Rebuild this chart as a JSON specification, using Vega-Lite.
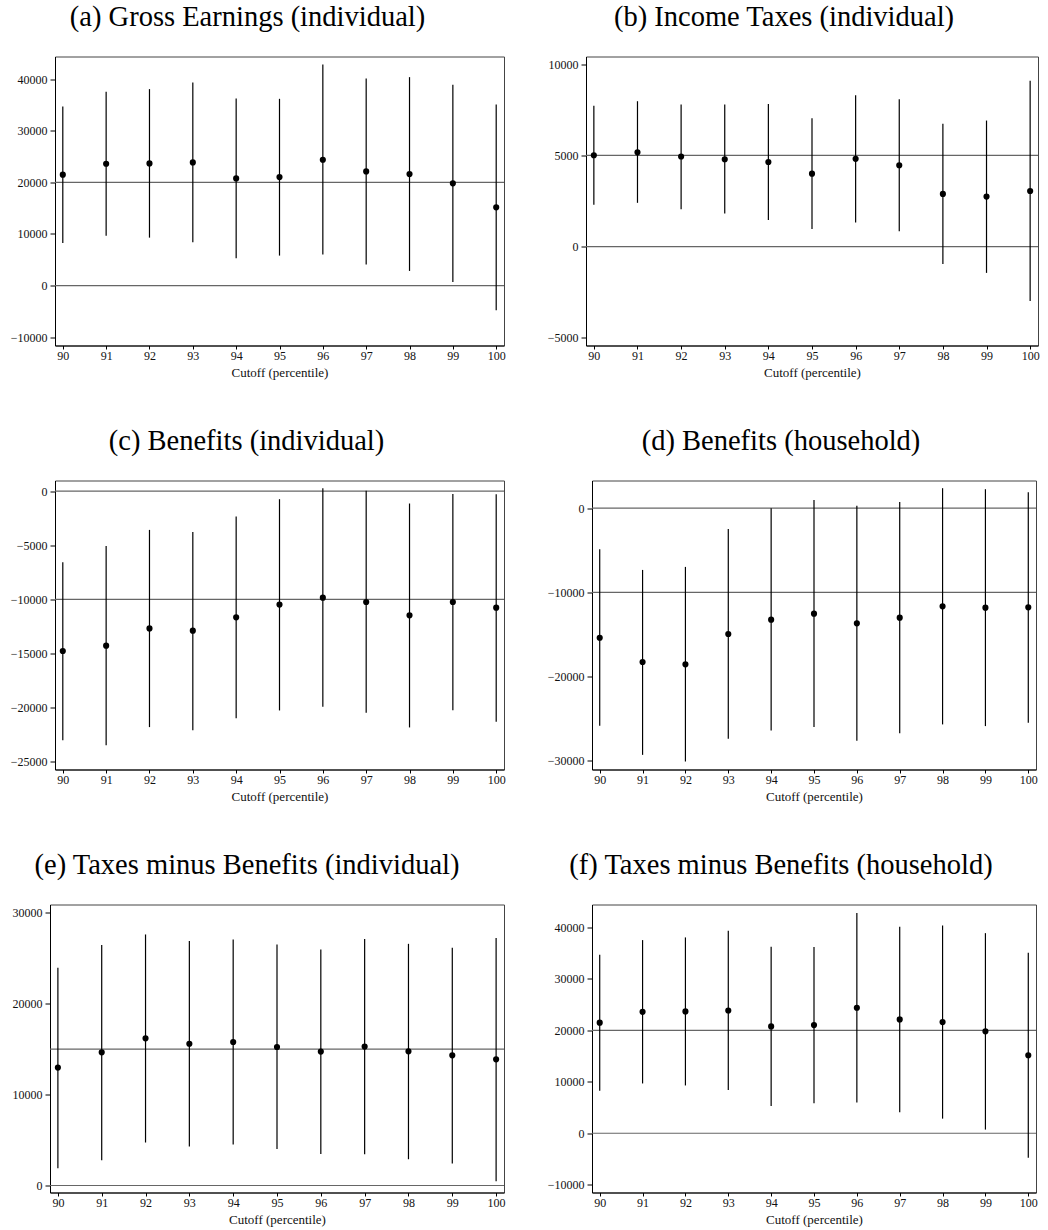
{
  "$schema": "https://vega.github.io/schema/vega-lite/v6.json",
  "background": "white",
  "padding": {"left": 0, "top": 2.5, "right": 0, "bottom": 0},
  "columns": 3,
  "align": "none",
  "spacing": {"row": 47, "column": 0},
  "datasets": {
    "refs": [
      {"panel": "a", "v": 0}, {"panel": "a", "v": 20000},
      {"panel": "b", "v": 0}, {"panel": "b", "v": 5000},
      {"panel": "c", "v": 0}, {"panel": "c", "v": -10000},
      {"panel": "d", "v": 0}, {"panel": "d", "v": -10000},
      {"panel": "e", "v": 0}, {"panel": "e", "v": 15000},
      {"panel": "f", "v": 0}, {"panel": "f", "v": 20000}
    ],
    "est": [
      {"panel": "a", "pct": 90, "est": 21500, "lo": 8260, "hi": 34700},
      {"panel": "a", "pct": 91, "est": 23600, "lo": 9680, "hi": 37550},
      {"panel": "a", "pct": 92, "est": 23680, "lo": 9290, "hi": 38070},
      {"panel": "a", "pct": 93, "est": 23870, "lo": 8390, "hi": 39350},
      {"panel": "a", "pct": 94, "est": 20770, "lo": 5290, "hi": 36260},
      {"panel": "a", "pct": 95, "est": 21030, "lo": 5810, "hi": 36190},
      {"panel": "a", "pct": 96, "est": 24390, "lo": 6000, "hi": 42840},
      {"panel": "a", "pct": 97, "est": 22130, "lo": 4070, "hi": 40130},
      {"panel": "a", "pct": 98, "est": 21610, "lo": 2840, "hi": 40390},
      {"panel": "a", "pct": 99, "est": 19810, "lo": 710, "hi": 38900},
      {"panel": "a", "pct": 100, "est": 15160, "lo": -4770, "hi": 35100},
      {"panel": "b", "pct": 90, "est": 5010, "lo": 2300, "hi": 7720},
      {"panel": "b", "pct": 91, "est": 5170, "lo": 2400, "hi": 7970},
      {"panel": "b", "pct": 92, "est": 4940, "lo": 2050, "hi": 7790},
      {"panel": "b", "pct": 93, "est": 4790, "lo": 1810, "hi": 7790},
      {"panel": "b", "pct": 94, "est": 4640, "lo": 1460, "hi": 7820},
      {"panel": "b", "pct": 95, "est": 4000, "lo": 970, "hi": 7040},
      {"panel": "b", "pct": 96, "est": 4810, "lo": 1320, "hi": 8300},
      {"panel": "b", "pct": 97, "est": 4460, "lo": 840, "hi": 8080},
      {"panel": "b", "pct": 98, "est": 2890, "lo": -950, "hi": 6730},
      {"panel": "b", "pct": 99, "est": 2740, "lo": -1440, "hi": 6910},
      {"panel": "b", "pct": 100, "est": 3050, "lo": -2980, "hi": 9090},
      {"panel": "c", "pct": 90, "est": -14780, "lo": -23030, "hi": -6570},
      {"panel": "c", "pct": 91, "est": -14290, "lo": -23490, "hi": -5060},
      {"panel": "c", "pct": 92, "est": -12690, "lo": -21820, "hi": -3580},
      {"panel": "c", "pct": 93, "est": -12900, "lo": -22100, "hi": -3770},
      {"panel": "c", "pct": 94, "est": -11670, "lo": -20990, "hi": -2350},
      {"panel": "c", "pct": 95, "est": -10490, "lo": -20280, "hi": -740},
      {"panel": "c", "pct": 96, "est": -9850, "lo": -19940, "hi": 280},
      {"panel": "c", "pct": 97, "est": -10250, "lo": -20490, "hi": 30},
      {"panel": "c", "pct": 98, "est": -11480, "lo": -21850, "hi": -1140},
      {"panel": "c", "pct": 99, "est": -10250, "lo": -20250, "hi": -250},
      {"panel": "c", "pct": 100, "est": -10770, "lo": -21330, "hi": -280},
      {"panel": "d", "pct": 90, "est": -15400, "lo": -25870, "hi": -4880},
      {"panel": "d", "pct": 91, "est": -18290, "lo": -29330, "hi": -7340},
      {"panel": "d", "pct": 92, "est": -18570, "lo": -30120, "hi": -6980},
      {"panel": "d", "pct": 93, "est": -14960, "lo": -27420, "hi": -2460},
      {"panel": "d", "pct": 94, "est": -13250, "lo": -26430, "hi": 0},
      {"panel": "d", "pct": 95, "est": -12540, "lo": -26030, "hi": 990},
      {"panel": "d", "pct": 96, "est": -13690, "lo": -27660, "hi": 280},
      {"panel": "d", "pct": 97, "est": -13020, "lo": -26750, "hi": 750},
      {"panel": "d", "pct": 98, "est": -11670, "lo": -25710, "hi": 2380},
      {"panel": "d", "pct": 99, "est": -11830, "lo": -25910, "hi": 2260},
      {"panel": "d", "pct": 100, "est": -11790, "lo": -25520, "hi": 1900},
      {"panel": "e", "pct": 90, "est": 12970, "lo": 1900, "hi": 23960},
      {"panel": "e", "pct": 91, "est": 14650, "lo": 2780, "hi": 26450},
      {"panel": "e", "pct": 92, "est": 16190, "lo": 4730, "hi": 27620},
      {"panel": "e", "pct": 93, "est": 15600, "lo": 4290, "hi": 26890},
      {"panel": "e", "pct": 94, "est": 15790, "lo": 4510, "hi": 27070},
      {"panel": "e", "pct": 95, "est": 15240, "lo": 4030, "hi": 26520},
      {"panel": "e", "pct": 96, "est": 14730, "lo": 3480, "hi": 25970},
      {"panel": "e", "pct": 97, "est": 15280, "lo": 3440, "hi": 27110},
      {"panel": "e", "pct": 98, "est": 14760, "lo": 2890, "hi": 26590},
      {"panel": "e", "pct": 99, "est": 14320, "lo": 2420, "hi": 26150},
      {"panel": "e", "pct": 100, "est": 13880, "lo": 480, "hi": 27220},
      {"panel": "f", "pct": 90, "est": 21500, "lo": 8260, "hi": 34700},
      {"panel": "f", "pct": 91, "est": 23600, "lo": 9680, "hi": 37550},
      {"panel": "f", "pct": 92, "est": 23680, "lo": 9290, "hi": 38070},
      {"panel": "f", "pct": 93, "est": 23870, "lo": 8390, "hi": 39350},
      {"panel": "f", "pct": 94, "est": 20770, "lo": 5290, "hi": 36260},
      {"panel": "f", "pct": 95, "est": 21030, "lo": 5810, "hi": 36190},
      {"panel": "f", "pct": 96, "est": 24390, "lo": 6000, "hi": 42840},
      {"panel": "f", "pct": 97, "est": 22130, "lo": 4070, "hi": 40130},
      {"panel": "f", "pct": 98, "est": 21610, "lo": 2840, "hi": 40390},
      {"panel": "f", "pct": 99, "est": 19810, "lo": 710, "hi": 38900},
      {"panel": "f", "pct": 100, "est": 15160, "lo": -4770, "hi": 35100}
    ]
  },
  "concat": [
    {"width": 1, "height": 1, "data": {"values": []}, "mark": {"type": "point", "opacity": 0}, "view": {"stroke": null}},
    {
      "width": 449, "height": 289,
      "title": {"text": "(a) Gross Earnings (individual)", "dx": -32},
      "layer": [
        {"data": {"name": "refs"}, "transform": [{"filter": "datum.panel == 'a'"}],
         "mark": {"type": "rule", "color": "#666", "strokeWidth": 1.2},
         "encoding": {"y": {"field": "v", "type": "quantitative", "title": null, "scale": {"domain": [-11610, 44390], "nice": false, "zero": false}, "axis": {"values": [-10000, 0, 10000, 20000, 30000, 40000], "format": "d", "minExtent": 53}}}},
        {"data": {"name": "est"}, "transform": [{"filter": "datum.panel == 'a'"}],
         "mark": {"type": "rule", "color": "black", "strokeWidth": 1.2},
         "encoding": {"x": {"field": "pct", "type": "quantitative", "title": "Cutoff (percentile)", "scale": {"domain": [89.82, 100.18], "nice": false, "zero": false}, "axis": {"values": [90, 91, 92, 93, 94, 95, 96, 97, 98, 99, 100], "format": "d"}},
                      "y": {"field": "lo", "type": "quantitative", "title": null}, "y2": {"field": "hi"}}},
        {"data": {"name": "est"}, "transform": [{"filter": "datum.panel == 'a'"}],
         "mark": {"type": "circle", "color": "black", "size": 38, "opacity": 1},
         "encoding": {"x": {"field": "pct", "type": "quantitative", "title": "Cutoff (percentile)"}, "y": {"field": "est", "type": "quantitative", "title": null}}}
      ]
    },
    {
      "width": 452, "height": 289,
      "title": {"text": "(b) Income Taxes (individual)", "dx": -28},
      "layer": [
        {"data": {"name": "refs"}, "transform": [{"filter": "datum.panel == 'b'"}],
         "mark": {"type": "rule", "color": "#666", "strokeWidth": 1.2},
         "encoding": {"y": {"field": "v", "type": "quantitative", "title": null, "scale": {"domain": [-5421, 10421], "nice": false, "zero": false}, "axis": {"values": [-5000, 0, 5000, 10000], "format": "d", "minExtent": 74}}}},
        {"data": {"name": "est"}, "transform": [{"filter": "datum.panel == 'b'"}],
         "mark": {"type": "rule", "color": "black", "strokeWidth": 1.2},
         "encoding": {"x": {"field": "pct", "type": "quantitative", "title": "Cutoff (percentile)", "scale": {"domain": [89.82, 100.18], "nice": false, "zero": false}, "axis": {"values": [90, 91, 92, 93, 94, 95, 96, 97, 98, 99, 100], "format": "d"}},
                      "y": {"field": "lo", "type": "quantitative", "title": null}, "y2": {"field": "hi"}}},
        {"data": {"name": "est"}, "transform": [{"filter": "datum.panel == 'b'"}],
         "mark": {"type": "circle", "color": "black", "size": 38, "opacity": 1},
         "encoding": {"x": {"field": "pct", "type": "quantitative", "title": "Cutoff (percentile)"}, "y": {"field": "est", "type": "quantitative", "title": null}}}
      ]
    },
    {"width": 1, "height": 1, "data": {"values": []}, "mark": {"type": "point", "opacity": 0}, "view": {"stroke": null}},
    {
      "width": 449, "height": 289,
      "title": {"text": "(c) Benefits (individual)", "dx": -33},
      "layer": [
        {"data": {"name": "refs"}, "transform": [{"filter": "datum.panel == 'c'"}],
         "mark": {"type": "rule", "color": "#666", "strokeWidth": 1.2},
         "encoding": {"y": {"field": "v", "type": "quantitative", "title": null, "scale": {"domain": [-25741, 988], "nice": false, "zero": false}, "axis": {"values": [-25000, -20000, -15000, -10000, -5000, 0], "format": "d", "minExtent": 53}}}},
        {"data": {"name": "est"}, "transform": [{"filter": "datum.panel == 'c'"}],
         "mark": {"type": "rule", "color": "black", "strokeWidth": 1.2},
         "encoding": {"x": {"field": "pct", "type": "quantitative", "title": "Cutoff (percentile)", "scale": {"domain": [89.82, 100.18], "nice": false, "zero": false}, "axis": {"values": [90, 91, 92, 93, 94, 95, 96, 97, 98, 99, 100], "format": "d"}},
                      "y": {"field": "lo", "type": "quantitative", "title": null}, "y2": {"field": "hi"}}},
        {"data": {"name": "est"}, "transform": [{"filter": "datum.panel == 'c'"}],
         "mark": {"type": "circle", "color": "black", "size": 38, "opacity": 1},
         "encoding": {"x": {"field": "pct", "type": "quantitative", "title": "Cutoff (percentile)"}, "y": {"field": "est", "type": "quantitative", "title": null}}}
      ]
    },
    {
      "width": 444, "height": 289,
      "title": {"text": "(d) Benefits (household)", "dx": -33},
      "layer": [
        {"data": {"name": "refs"}, "transform": [{"filter": "datum.panel == 'd'"}],
         "mark": {"type": "rule", "color": "#666", "strokeWidth": 1.2},
         "encoding": {"y": {"field": "v", "type": "quantitative", "title": null, "scale": {"domain": [-31071, 3294], "nice": false, "zero": false}, "axis": {"values": [-30000, -20000, -10000, 0], "format": "d", "minExtent": 80}}}},
        {"data": {"name": "est"}, "transform": [{"filter": "datum.panel == 'd'"}],
         "mark": {"type": "rule", "color": "black", "strokeWidth": 1.2},
         "encoding": {"x": {"field": "pct", "type": "quantitative", "title": "Cutoff (percentile)", "scale": {"domain": [89.82, 100.18], "nice": false, "zero": false}, "axis": {"values": [90, 91, 92, 93, 94, 95, 96, 97, 98, 99, 100], "format": "d"}},
                      "y": {"field": "lo", "type": "quantitative", "title": null}, "y2": {"field": "hi"}}},
        {"data": {"name": "est"}, "transform": [{"filter": "datum.panel == 'd'"}],
         "mark": {"type": "circle", "color": "black", "size": 38, "opacity": 1},
         "encoding": {"x": {"field": "pct", "type": "quantitative", "title": "Cutoff (percentile)"}, "y": {"field": "est", "type": "quantitative", "title": null}}}
      ]
    },
    {"width": 1, "height": 1, "data": {"values": []}, "mark": {"type": "point", "opacity": 0}, "view": {"stroke": null}},
    {
      "width": 454, "height": 288,
      "title": {"text": "(e) Taxes minus Benefits (individual)", "dx": -30},
      "layer": [
        {"data": {"name": "refs"}, "transform": [{"filter": "datum.panel == 'e'"}],
         "mark": {"type": "rule", "color": "#666", "strokeWidth": 1.2},
         "encoding": {"y": {"field": "v", "type": "quantitative", "title": null, "scale": {"domain": [-769, 30916], "nice": false, "zero": false}, "axis": {"values": [0, 10000, 20000, 30000], "format": "d", "minExtent": 48}}}},
        {"data": {"name": "est"}, "transform": [{"filter": "datum.panel == 'e'"}],
         "mark": {"type": "rule", "color": "black", "strokeWidth": 1.2},
         "encoding": {"x": {"field": "pct", "type": "quantitative", "title": "Cutoff (percentile)", "scale": {"domain": [89.82, 100.18], "nice": false, "zero": false}, "axis": {"values": [90, 91, 92, 93, 94, 95, 96, 97, 98, 99, 100], "format": "d"}},
                      "y": {"field": "lo", "type": "quantitative", "title": null}, "y2": {"field": "hi"}}},
        {"data": {"name": "est"}, "transform": [{"filter": "datum.panel == 'e'"}],
         "mark": {"type": "circle", "color": "black", "size": 38, "opacity": 1},
         "encoding": {"x": {"field": "pct", "type": "quantitative", "title": "Cutoff (percentile)"}, "y": {"field": "est", "type": "quantitative", "title": null}}}
      ]
    },
    {
      "width": 444, "height": 288,
      "title": {"text": "(f) Taxes minus Benefits (household)", "dx": -33},
      "layer": [
        {"data": {"name": "refs"}, "transform": [{"filter": "datum.panel == 'f'"}],
         "mark": {"type": "rule", "color": "#666", "strokeWidth": 1.2},
         "encoding": {"y": {"field": "v", "type": "quantitative", "title": null, "scale": {"domain": [-11520, 44470], "nice": false, "zero": false}, "axis": {"values": [-10000, 0, 10000, 20000, 30000, 40000], "format": "d", "minExtent": 85}}}},
        {"data": {"name": "est"}, "transform": [{"filter": "datum.panel == 'f'"}],
         "mark": {"type": "rule", "color": "black", "strokeWidth": 1.2},
         "encoding": {"x": {"field": "pct", "type": "quantitative", "title": "Cutoff (percentile)", "scale": {"domain": [89.82, 100.18], "nice": false, "zero": false}, "axis": {"values": [90, 91, 92, 93, 94, 95, 96, 97, 98, 99, 100], "format": "d"}},
                      "y": {"field": "lo", "type": "quantitative", "title": null}, "y2": {"field": "hi"}}},
        {"data": {"name": "est"}, "transform": [{"filter": "datum.panel == 'f'"}],
         "mark": {"type": "circle", "color": "black", "size": 38, "opacity": 1},
         "encoding": {"x": {"field": "pct", "type": "quantitative", "title": "Cutoff (percentile)"}, "y": {"field": "est", "type": "quantitative", "title": null}}}
      ]
    }
  ],
  "config": {
    "font": "Liberation Serif",
    "view": {"stroke": "#444", "strokeWidth": 1},
    "axis": {
      "grid": false,
      "domainColor": "black",
      "domainWidth": 1,
      "tickColor": "black",
      "tickWidth": 1,
      "labelColor": "#111",
      "labelFont": "Liberation Serif",
      "labelFontSize": 12,
      "titleFont": "Liberation Serif",
      "titleFontSize": 13,
      "titleFontWeight": "normal",
      "titleColor": "#111",
      "labelAngle": 0
    },
    "axisX": {"tickSize": 3.5, "labelPadding": 1, "titlePadding": 5},
    "axisY": {"tickSize": 5, "labelPadding": 3},
    "title": {"font": "Liberation Serif", "fontSize": 28.5, "fontWeight": "normal", "color": "black", "anchor": "middle", "frame": "group", "baseline": "alphabetic", "offset": 25}
  }
}
